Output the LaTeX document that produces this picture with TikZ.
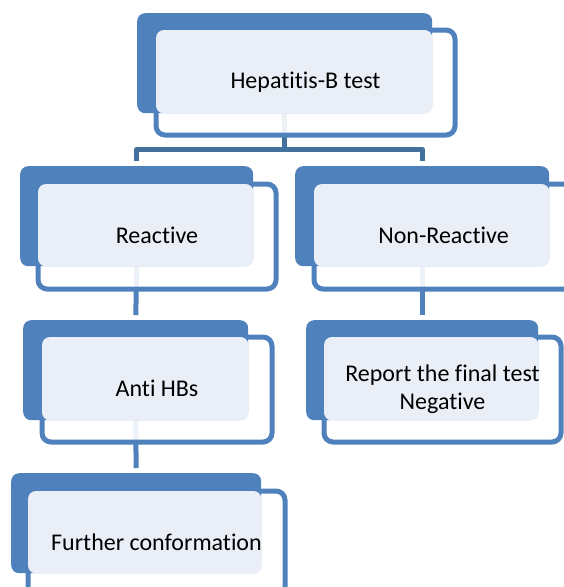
\documentclass[tikz,border=0pt]{standalone}
\usepackage{fontspec}
\setmainfont[Ligatures=NoCommon]{Carlito}
\usetikzlibrary{backgrounds}
\definecolor{boxblue}{HTML}{4F81BD}
\definecolor{linkblue}{HTML}{41719C}
\definecolor{boxlight}{HTML}{EAEFF7}

\begin{document}
\begin{tikzpicture}[x=1pt,y=-1pt,
  back box/.style={rectangle,rounded corners=8pt,fill=boxblue,inner sep=0pt,
    minimum height=100pt,anchor=north west},
  frame box/.style={rectangle,rounded corners=9pt,draw=boxblue,line width=5pt,
    fill=white,fill opacity=0.9,inner sep=0pt,minimum height=105pt,anchor=north west},
  label text/.style={font=\fontsize{24}{28}\selectfont,align=center,text=black},
  link/.style={draw=boxblue,line width=5pt,line join=round,shorten >=5pt}]

  \useasboundingbox (0,0) rectangle (563,587);

  % top box
  \node[frame box,minimum width=299pt] (hepF) at (153.5,27.5) {};
  \node[back box,minimum width=295pt] (hepB) at (137,13) {};
  \fill[boxlight,rounded corners=8pt] ([shift={(2.5,2.5)}]hepF.north west) rectangle (hepB.south east);
  \node[label text] (hep) at (hepF.center) {Hepatitis-B test};

  % second row
  \node[frame box,minimum width=238pt] (reaF) at (35.5,181.5) {};
  \node[back box,minimum width=233pt] (reaB) at (20,166) {};
  \fill[boxlight,rounded corners=8pt] ([shift={(2.5,2.5)}]reaF.north west) rectangle (reaB.south east);
  \node[label text] (rea) at ([yshift=1.5pt]reaF.center) {Reactive};

  \node[frame box,minimum width=259pt] (nonF) at (311.5,181.5) {};
  \node[back box,minimum width=254pt] (nonB) at (295,166) {};
  \fill[boxlight,rounded corners=8pt] ([shift={(2.5,2.5)}]nonF.north west) rectangle (nonB.south east);
  \node[label text] (non) at ([yshift=1.5pt]nonF.center) {Non-Reactive};

  % third row
  \node[frame box,minimum width=230pt] (antiF) at (39.5,334.5) {};
  \node[back box,minimum width=225pt] (antiB) at (23,320) {};
  \fill[boxlight,rounded corners=8pt] ([shift={(2.5,2.5)}]antiF.north west) rectangle (antiB.south east);
  \node[label text] (anti) at ([yshift=1.5pt]antiF.center) {Anti HBs};

  \node[frame box,minimum width=237pt] (repF) at (321.5,334.5) {};
  \node[back box,minimum width=232pt] (repB) at (306,320) {};
  \fill[boxlight,rounded corners=8pt] ([shift={(2.5,2.5)}]repF.north west) rectangle (repB.south east);
  \node[label text] (rep) at (repF.center) {Report the final test\\Negative};

  % last box
  \node[frame box,minimum width=257pt] (furF) at (25.5,488.5) {};
  \node[back box,minimum width=250pt] (furB) at (11,473) {};
  \fill[boxlight,rounded corners=8pt] ([shift={(2.5,2.5)}]furF.north west) rectangle (furB.south east);
  \node[label text] (fur) at ([yshift=1.5pt]furF.center) {Further conformation};

  \begin{pgfonlayer}{background}
    \draw[link,draw=linkblue] (hepB.south) -- ++(0,36) -| (reaB.north);
    \draw[link,draw=linkblue] (hepB.south) -- ++(0,36) -| (nonB.north);
    \draw[link] (reaB.south) -- (antiB.north);
    \draw[link] (nonB.south) -- (repB.north);
    \draw[link] (antiB.south) -- (furB.north);
  \end{pgfonlayer}

\end{tikzpicture}
\end{document}
